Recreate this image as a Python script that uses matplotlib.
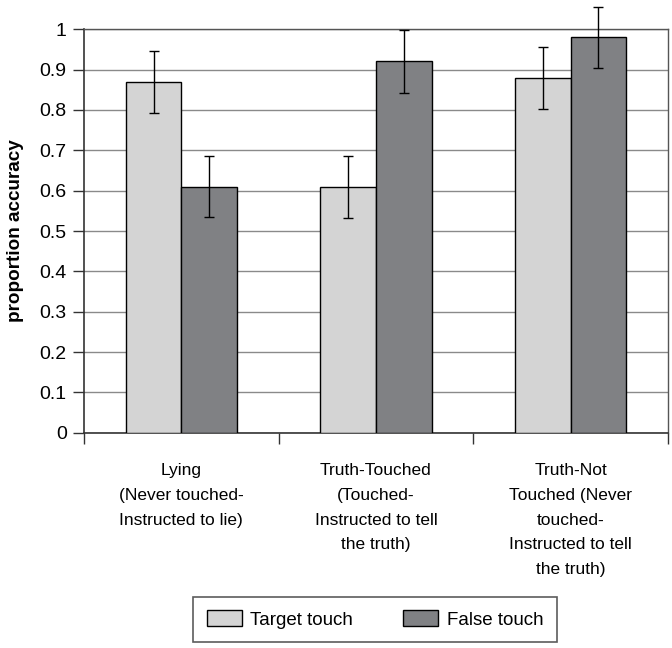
import matplotlib
matplotlib.use("Agg")
import matplotlib.pyplot as plt
import numpy as np

plt.rcParams['font.family'] = ['Liberation Sans', 'DejaVu Sans']

categories = ["Lying\n(Never touched-\nInstructed to lie)",
              "Truth-Touched\n(Touched-\nInstructed to tell\nthe truth)",
              "Truth-Not\nTouched (Never\ntouched-\nInstructed to tell\nthe truth)"]
series_names = ["Target touch", "False touch"]
target_vals = [0.87, 0.61, 0.88]
false_vals = [0.61, 0.92, 0.98]
target_err = [0.077, 0.077, 0.077]
false_err = [0.075, 0.077, 0.076]
yticks = [0, 0.1, 0.2, 0.3, 0.4, 0.5, 0.6, 0.7, 0.8, 0.9, 1]
ytick_labels = ["0", "0.1", "0.2", "0.3", "0.4", "0.5", "0.6", "0.7", "0.8", "0.9", "1"]

fig = plt.figure(figsize=(6.72, 6.48), dpi=100)
ax = fig.add_axes([0.125, 0.332, 0.869, 0.623])

x = np.arange(len(categories))
w = 1 / 3.5
ekw = dict(ecolor='black', elinewidth=1, capsize=3.3, capthick=1)
b1 = ax.bar(x - w/2, target_vals, w, color='#d4d4d4', edgecolor='black', linewidth=1,
            label=series_names[0], zorder=3)
b2 = ax.bar(x + w/2, false_vals, w, color='#808184', edgecolor='black', linewidth=1,
            label=series_names[1], zorder=3)
e1 = ax.errorbar(x - w/2, target_vals, yerr=target_err, fmt='none', zorder=4, **ekw)
e2 = ax.errorbar(x + w/2, false_vals, yerr=false_err, fmt='none', zorder=4, **ekw)
for e in (e1, e2):
    for c in e.get_children():
        c.set_clip_on(False)

ax.set_xlim(-0.5, 2.5)
ax.set_ylim(0, 1)
ax.set_yticks(yticks)
ax.set_yticklabels(ytick_labels, fontsize=14)
ax.yaxis.grid(True, color='#8a8a8a', linewidth=1, zorder=0)
ax.set_axisbelow(True)

ax.set_xticks([-0.5, 0.5, 1.5, 2.5])
ax.set_xticklabels([])
ax.set_xticks(x, minor=True)
ax.set_xticklabels(categories, minor=True, fontsize=12.5, linespacing=1.8, va='top')
ax.tick_params(axis='x', which='minor', length=0, pad=22)
ax.tick_params(axis='x', which='major', length=8, width=1, direction='out', color='#333333')
ax.tick_params(axis='y', length=8, width=1, direction='out', color='#333333', pad=4.5)

for s in ['left', 'bottom']:
    ax.spines[s].set_color('#333333')
    ax.spines[s].set_linewidth(1.2)
for s in ['top', 'right']:
    ax.spines[s].set_color('#555555')
    ax.spines[s].set_linewidth(1)

ax.set_ylabel("proportion accuracy", fontsize=13.6, fontweight='bold')
ax.yaxis.set_label_coords((24 - 84) / 584, 0.5)

leg = fig.legend(handles=[b1, b2], labels=series_names, loc='center',
                 bbox_to_anchor=(0.558, 0.044), ncol=2, frameon=True, fancybox=False,
                 edgecolor='#333333', fontsize=13.5, handlelength=1.87, handleheight=0.96,
                 columnspacing=2.7, borderpad=0.72, handletextpad=0.43)
leg.get_frame().set_linewidth(1.2)

fig.savefig("out.png", dpi=100)
